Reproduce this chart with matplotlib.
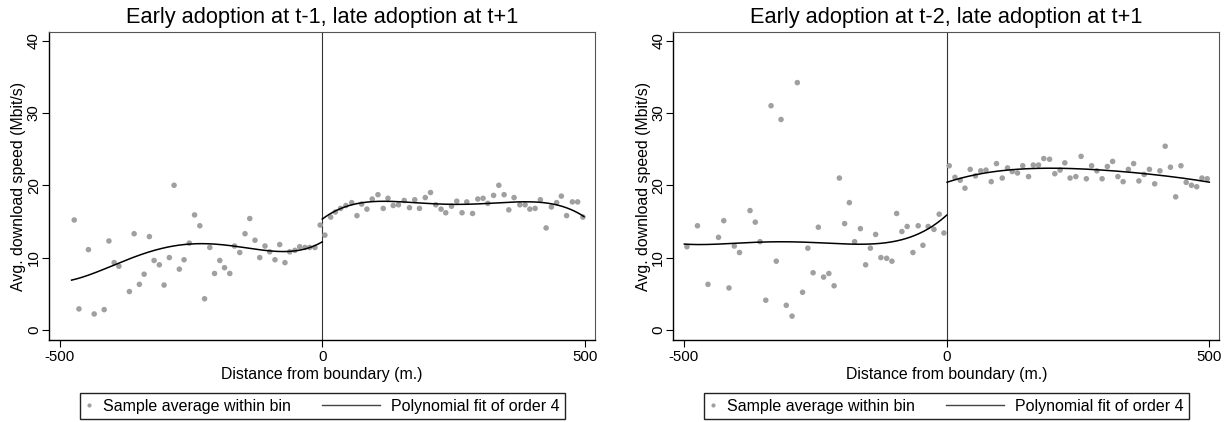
import numpy as np
import matplotlib
matplotlib.use("Agg")
import matplotlib.pyplot as plt
from matplotlib.lines import Line2D
from matplotlib.legend_handler import HandlerLine2D

plt.rcParams['font.family'] = ['Liberation Sans', 'DejaVu Sans']
plt.rcParams['axes.unicode_minus'] = False

# ---------------- data: panel 1 (t-1) ----------------
p1_left_x = [-472, -463, -445, -434, -415, -406, -396, -387, -367, -358, -348, -339, -329, -320,
             -310, -301, -291, -282, -272, -263, -253, -243, -233, -224, -214, -205, -195, -186,
             -176, -167, -157, -147, -138, -128, -119, -109, -100, -90, -81, -71, -62, -52,
             -43, -33, -24, -14, -4]
p1_left_y = [15.2, 2.9, 11.1, 2.2, 2.8, 12.3, 9.3, 8.8, 5.3, 13.3, 6.3, 7.7, 12.9, 9.6,
             9.0, 6.2, 10.0, 20.0, 8.4, 9.7, 12.0, 15.9, 14.4, 4.3, 11.4, 7.8, 9.6, 8.6,
             7.8, 11.6, 10.7, 13.3, 15.4, 12.4, 10.0, 11.6, 10.8, 9.7, 11.8, 9.3, 10.8, 11.0,
             11.5, 11.4, 11.4, 11.4, 14.5]
p1_right_x = [5, 16, 25, 35, 45, 56, 66, 75, 85, 95, 106, 116, 125, 135, 145, 156, 166, 176,
              185, 196, 206, 216, 226, 235, 246, 256, 266, 275, 286, 296, 306, 315, 326, 336,
              346, 355, 365, 376, 386, 395, 405, 415, 426, 436, 446, 455, 465, 476, 486, 496]
p1_right_y = [13.1, 15.6, 16.3, 16.8, 17.2, 17.6, 15.8, 17.4, 16.7, 18.1, 18.7, 16.8, 18.2, 17.2,
              17.3, 17.9, 16.9, 18.0, 16.8, 18.3, 19.0, 17.3, 16.7, 16.2, 17.1, 17.8, 16.2, 17.7,
              16.1, 18.1, 18.2, 17.5, 18.6, 20.0, 18.7, 16.6, 18.3, 17.3, 17.3, 16.7, 16.8, 18.0,
              14.1, 17.0, 17.6, 18.5, 15.8, 17.7, 17.7, 15.6]
# fitted curve (quartic fit on each side)
p1_fitL_x = [-477, -436, -398, -360, -309, -258, -220, -170, -119, -81, -43, -18, 0]
p1_fitL_y = [6.9, 7.75, 8.9, 10.15, 11.17, 11.76, 11.86, 11.67, 11.17, 10.84, 10.98, 11.4, 12.3]
p1_fitR_x = [0, 17, 36, 55, 87, 150, 213, 277, 340, 410, 435, 467, 498]
p1_fitR_y = [15.2, 16.15, 16.93, 17.4, 17.67, 17.53, 17.4, 17.48, 17.67, 17.67, 17.4, 16.7, 15.78]

# ---------------- data: panel 2 (t-2) ----------------
p2_left_x = [-494, -474, -454, -434, -424, -414, -404, -394, -374, -364, -355, -344, -334, -324,
             -315, -305, -294, -284, -274, -264, -254, -244, -234, -224, -214, -204, -194, -185,
             -175, -164, -154, -145, -135, -125, -114, -104, -95, -85, -75, -64, -54, -45,
             -35, -24, -14, -5]
p2_left_y = [11.5, 14.4, 6.3, 12.8, 15.1, 5.8, 11.6, 10.7, 16.5, 14.9, 12.2, 4.1, 31.0, 9.5,
             29.1, 3.4, 1.9, 34.2, 5.2, 11.3, 7.9, 14.2, 7.3, 7.8, 6.1, 21.0, 14.7, 17.6,
             12.2, 14.0, 9.0, 11.3, 13.2, 10.0, 9.9, 9.5, 16.1, 13.6, 14.3, 10.7, 14.4, 11.7,
             14.3, 13.9, 16.0, 13.4]
p2_right_x = [5, 16, 26, 35, 45, 55, 65, 75, 85, 95, 106, 116, 125, 135, 145, 156, 165, 175,
              185, 196, 206, 216, 225, 235, 246, 256, 266, 276, 286, 296, 306, 316, 326, 336,
              346, 356, 366, 376, 386, 396, 406, 416, 426, 436, 446, 456, 466, 476, 486, 496]
p2_right_y = [22.7, 21.1, 20.7, 19.6, 22.2, 21.3, 22.0, 22.1, 20.5, 23.0, 21.0, 22.4, 21.9, 21.7,
              22.7, 21.2, 22.8, 22.8, 23.7, 23.6, 21.6, 22.1, 23.1, 21.0, 21.2, 24.0, 20.9, 22.7,
              22.0, 20.9, 22.6, 23.3, 21.2, 20.5, 22.2, 23.0, 20.6, 21.5, 22.2, 20.2, 22.0, 25.4,
              22.5, 18.4, 22.7, 20.4, 20.0, 19.8, 21.0, 20.9]
p2_fitL_x = [-499, -443, -380, -317, -266, -222, -177, -133, -95, -57, -25, 0]
p2_fitL_y = [11.86, 11.86, 12.04, 12.18, 12.13, 12.0, 11.86, 11.86, 12.3, 13.3, 14.3, 15.9]
p2_fitR_x = [1, 51, 114, 178, 241, 305, 368, 431, 500]
p2_fitR_y = [20.4, 21.45, 22.05, 22.33, 22.33, 22.05, 21.7, 21.13, 20.44]

titles = ["Early adoption at t-1, late adoption at t+1",
          "Early adoption at t-2, late adoption at t+1"]
xlabel = "Distance from boundary (m.)"
ylabel = "Avg. download speed (Mbit/s)"
xticks = [-500, 0, 500]
yticks = [0, 10, 20, 30, 40]
legend_labels = ["Sample average within bin", "Polynomial fit of order 4"]

panels = [
    dict(pts=[(p1_left_x, p1_left_y), (p1_right_x, p1_right_y)],
         fits=[(p1_fitL_x, p1_fitL_y), (p1_fitR_x, p1_fitR_y)]),
    dict(pts=[(p2_left_x, p2_left_y), (p2_right_x, p2_right_y)],
         fits=[(p2_fitL_x, p2_fitL_y), (p2_fitR_x, p2_fitR_y)]),
]


class LongLineHandler(HandlerLine2D):
    """Legend line that extends to the left of its (narrow) handle box."""
    def __init__(self, extend, **kw):
        super().__init__(**kw)
        self.extend = extend

    def create_artists(self, legend, orig_handle, xdescent, ydescent, width,
                       height, fontsize, trans):
        y = height / 2 - ydescent
        line = Line2D([-xdescent - self.extend * fontsize, width - xdescent], [y, y])
        self.update_prop(line, orig_handle, legend)
        line.set_marker('None')
        line.set_transform(trans)
        return [line]


W, H = 1231, 422
fig = plt.figure(figsize=(W / 100, H / 100), dpi=100)

axes_px = [(49, 595), (673.3, 1219.3)]
zero_px = [322.5, 946.5]
top_px, bot_px = 32, 340
dot_color = '#a0a0a0'
lab_fs = 11.4
tick_fs = 10.8
leg_fs = 11.5

for i, pan in enumerate(panels):
    x0, x1 = axes_px[i]
    ax = fig.add_axes([x0 / W, 1 - bot_px / H, (x1 - x0) / W, (bot_px - top_px) / H])
    for xs, ys in pan['pts']:
        ax.scatter(xs, ys, s=16, color=dot_color, edgecolors='none', zorder=3)
    for fx, fy in pan['fits']:
        c = np.polyfit(fx, fy, 4)
        g = np.linspace(min(fx), max(fx), 300)
        ax.plot(g, np.polyval(c, g), color='black', lw=1.1, zorder=4)
    ax.axvline(0, color='#333333', lw=0.8, zorder=2)
    ax.set_xlim(-520, 519)
    ax.set_ylim(-1.4, 41.2)
    ax.set_xticks(xticks)
    ax.set_yticks(yticks)
    ax.tick_params(axis='both', direction='out', length=5, width=0.8,
                   labelsize=tick_fs)
    ax.tick_params(axis='x', pad=2.5)
    ax.tick_params(axis='y', pad=0.8)
    for lab in ax.get_yticklabels():
        lab.set_rotation(90)
        lab.set_va('center')
    ax.set_xlabel(xlabel, fontsize=lab_fs, labelpad=2)
    ax.set_ylabel(ylabel, fontsize=lab_fs, labelpad=0.5)
    ax.set_title(titles[i], fontsize=15.7, pad=6.5)
    for s in ('left', 'bottom'):
        ax.spines[s].set_color('black')
        ax.spines[s].set_linewidth(1.0)
    for s in ('top', 'right'):
        ax.spines[s].set_color('#555555')
        ax.spines[s].set_linewidth(0.8)

    h_dot = Line2D([], [], ls='none', marker='o', ms=3.0, color=dot_color, mec='none')
    h_line = Line2D([], [], color='#444444', lw=1.0)
    fig.legend([h_dot, h_line], legend_labels, loc='center',
               bbox_to_anchor=(zero_px[i] / W, 1 - 406 / H), ncol=2, fontsize=leg_fs,
               frameon=True, fancybox=False, edgecolor='#222222', framealpha=1,
               handlelength=0.4, handletextpad=0.68, columnspacing=5.2,
               borderpad=0.35, borderaxespad=0,
               handler_map={h_line: LongLineHandler(3.25)})

fig.savefig("out.png", dpi=100)
